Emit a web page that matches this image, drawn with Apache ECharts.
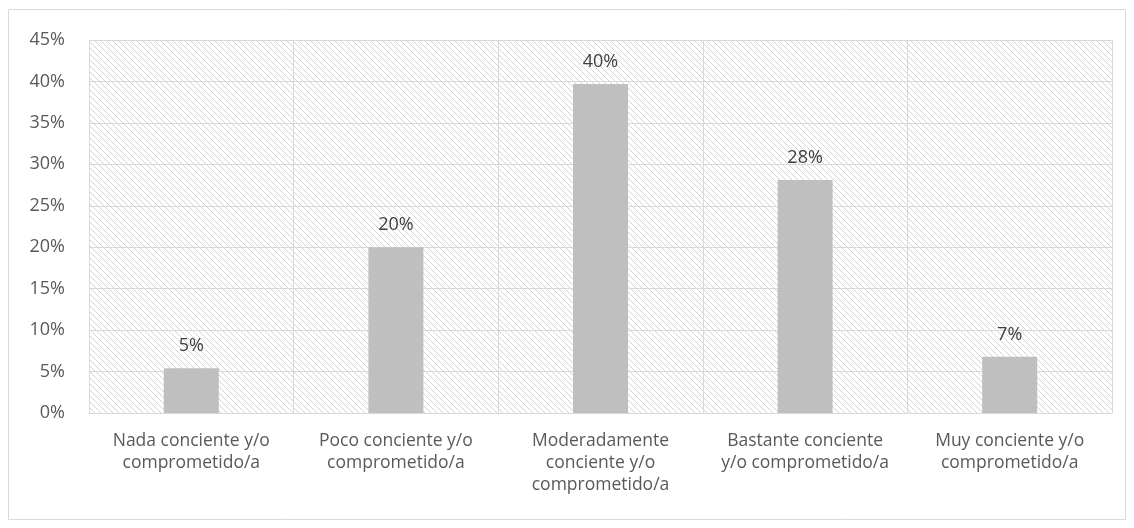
<!DOCTYPE html>
<html>
<head>
<meta charset="utf-8">
<script src="https://cdn.jsdelivr.net/npm/echarts@6/dist/echarts.min.js"></script>
<style>
  html, body { margin: 0; padding: 0; background: #fff; }
  #chart { width: 1134px; height: 528px; }
</style>
</head>
<body>
<div id="chart"></div>
<script>
const categories = [
  "Nada conciente y/o\ncomprometido/a",
  "Poco conciente y/o\ncomprometido/a",
  "Moderadamente\nconciente y/o\ncomprometido/a",
  "Bastante conciente\ny/o comprometido/a",
  "Muy conciente y/o\ncomprometido/a"
];
const values = [5.4, 20.0, 39.7, 28.1, 6.8];
const yTicks = [0, 5, 10, 15, 20, 25, 30, 35, 40, 45];

// diagonal hatch tile for the plot background
function hatch() {
  const p = 6;
  const c = document.createElement("canvas");
  c.width = p; c.height = p;
  const ctx = c.getContext("2d");
  ctx.fillStyle = "#ffffff";
  ctx.fillRect(0, 0, p, p);
  ctx.strokeStyle = "#d4d4d4";
  ctx.lineWidth = 1;
  ctx.beginPath();
  ctx.moveTo(-1, -1); ctx.lineTo(p + 1, p + 1);
  ctx.moveTo(-1, p - 1); ctx.lineTo(1, p + 1);
  ctx.moveTo(p - 1, -1); ctx.lineTo(p + 1, 1);
  ctx.stroke();
  return c;
}

const chart = echarts.init(document.getElementById("chart"));
chart.setOption({
  animation: false,
  textStyle: { fontFamily: "Open Sans" },
  graphic: [{
    type: "rect",
    shape: { x: 8.5, y: 9.5, width: 1117, height: 510 },
    style: { fill: "none", stroke: "#d9d9d9", lineWidth: 1 },
    silent: true
  }],
  grid: {
    left: 89, right: 22, top: 40, bottom: 115,
    show: true,
    borderWidth: 0,
    backgroundColor: { image: hatch(), repeat: "repeat" }
  },
  xAxis: {
    type: "category",
    data: categories,
    axisLine: { lineStyle: { color: "#d9d9d9", width: 1 } },
    axisTick: { show: false },
    splitLine: { show: true, lineStyle: { color: "#d9d9d9", width: 1 } },
    axisLabel: {
      color: "#595959",
      fontSize: 17.5,
      lineHeight: 22,
      margin: 17,
      interval: 0
    }
  },
  yAxis: {
    type: "value",
    min: yTicks[0],
    max: yTicks[yTicks.length - 1],
    interval: 5,
    axisLine: { show: false },
    axisTick: { show: false },
    splitLine: { lineStyle: { color: "#d9d9d9", width: 1 } },
    axisLabel: {
      color: "#595959",
      fontSize: 18,
      margin: 24,
      formatter: v => v + "%"
    }
  },
  series: [{
    type: "bar",
    data: values,
    barWidth: 55,
    itemStyle: { color: "#bfbfbf" },
    label: {
      show: true,
      position: "top",
      distance: 13,
      color: "#404040",
      fontSize: 18,
      formatter: p => Math.round(p.value) + "%"
    }
  }]
});
</script>
</body>
</html>
